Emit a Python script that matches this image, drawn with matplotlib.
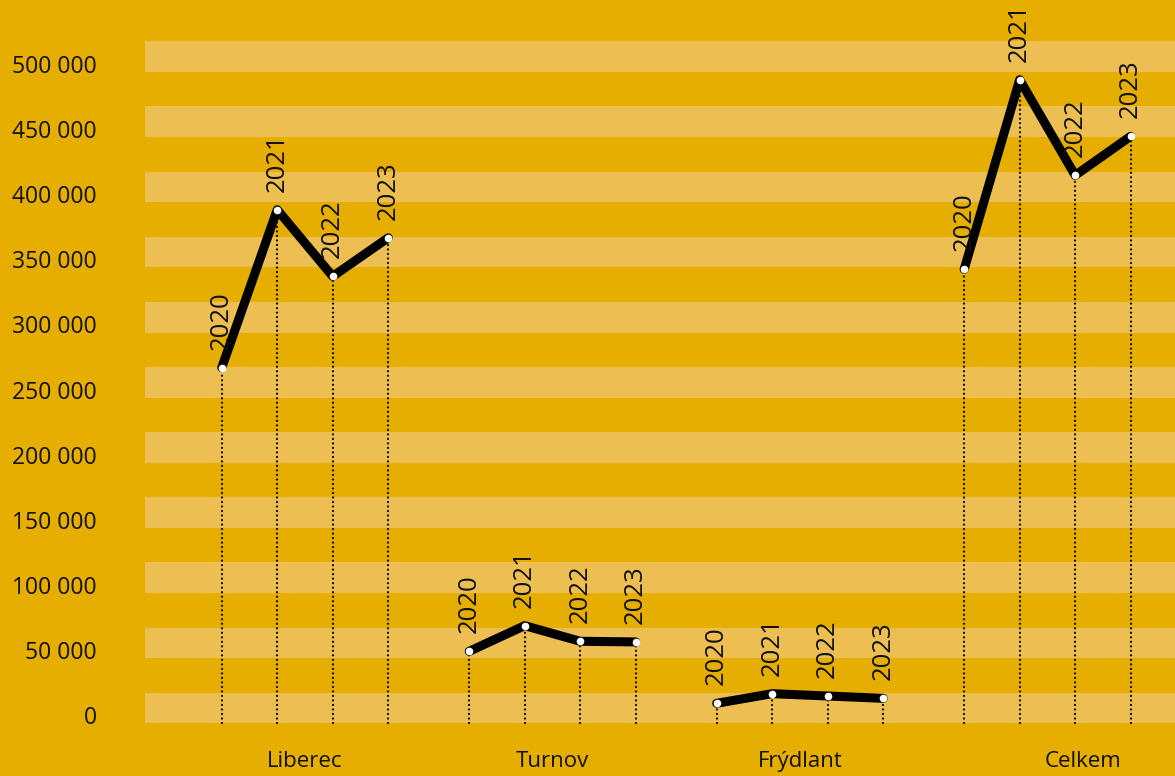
import matplotlib.pyplot as plt
from matplotlib import transforms

plt.rcParams['font.family'] = ['Open Sans', 'DejaVu Sans']

towns = ['Liberec', 'Turnov', 'Frýdlant', 'Celkem']
years = ['2020', '2021', '2022', '2023']
values = [
    [273100, 394300, 343200, 372800],   # Liberec
    [55400, 75100, 63100, 62600],       # Turnov
    [15500, 22900, 21100, 19300],       # Frýdlant
    [348600, 494100, 420700, 450700],   # Celkem
]
yticks = [0, 50000, 100000, 150000, 200000, 250000, 300000, 350000, 400000, 450000, 500000]
ytick_labels = ['0', '50 000', '100 000', '150 000', '200 000', '250 000',
                '300 000', '350 000', '400 000', '450 000', '500 000']

bg = '#E5AE00'
stripe = '#EDBF53'
ink = '#111111'

fig = plt.figure(figsize=(11.75, 7.76), dpi=100, facecolor=bg)
ax = fig.add_axes([0, 0, 1, 1])
ax.set_facecolor(bg)
ax.set_xlim(-5.495, 15.676)
ax.set_ylim(-40300, 555300)
ax.axis('off')

# light bands
for t in yticks:
    ax.axhspan(t, t + 23600, xmin=145 / 1175, xmax=1, color=stripe, lw=0, zorder=0)

# y labels
lab_tr = transforms.blended_transform_factory(ax.transAxes, ax.transData)
for t, lab in zip(yticks, ytick_labels):
    ax.text(97 / 1175, t + 4000, lab, transform=lab_tr, ha='right', va='center',
            fontsize=16.5, color=ink)

group_gap = 4.459
label_nudge = [0, 0, 0, 0.65]
for g, (town, vals) in enumerate(zip(towns, values)):
    xs = [g * group_gap + i - 1.5 for i in range(len(years))]
    ax.vlines(xs, 0, vals, colors=ink, linestyles=(0, (0.01, 1.9)), lw=1.7,
              capstyle='round', zorder=1)
    ax.plot(xs, vals, color='black', lw=6.5, solid_capstyle='round', zorder=2)
    ax.plot(xs, vals, 'o', color='white', markersize=5.5, markeredgewidth=0, zorder=3)
    for x, v, yr in zip(xs, vals, years):
        ax.annotate(yr, (x, v), xytext=(0, 13), textcoords='offset points',
                    rotation=90, ha='center', va='bottom', fontsize=18.5, color=ink, zorder=4)
    ax.text(g * group_gap + label_nudge[g], -29500, town, ha='center', va='center',
            fontsize=16, color=ink)

fig.savefig('out.png', dpi=100, facecolor=bg)
